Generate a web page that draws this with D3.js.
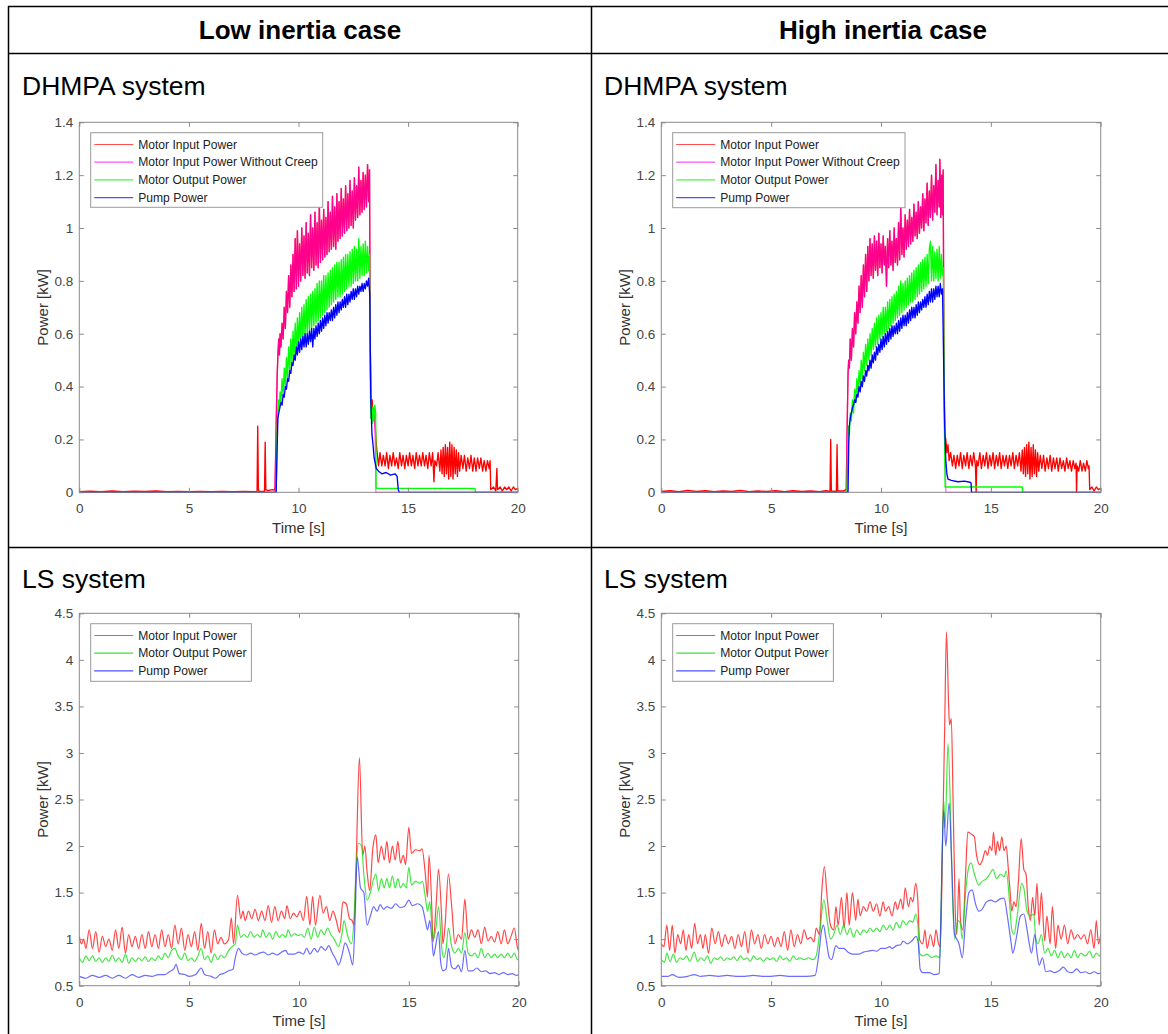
<!DOCTYPE html>
<html><head><meta charset="utf-8">
<script src="https://cdn.jsdelivr.net/npm/d3@7"></script>
<style>
html,body{margin:0;padding:0;background:#fff;}
svg text{font-family:"Liberation Sans",Arial,Helvetica,sans-serif;}
</style></head>
<body>
<svg id="chart" width="1168" height="1034"></svg>
<script>
// ---------------- DATA ----------------
const columnTitles = ["Low inertia case", "High inertia case"];
const rowTitles = ["DHMPA system", "LS system"];
const xTicks = [0, 5, 10, 15, 20];
const yTicksDH = [0, 0.2, 0.4, 0.6, 0.8, 1, 1.2, 1.4];
const yTicksLS = [0.5, 1, 1.5, 2, 2.5, 3, 3.5, 4, 4.5];
const legendDH = ["Motor Input Power", "Motor Input Power Without Creep", "Motor Output Power", "Pump Power"];
const legendLS = ["Motor Input Power", "Motor Output Power", "Pump Power"];
const xLabel = "Time [s]";
const yLabel = "Power [kW]";

// ---- DHMPA, low inertia ----
const dhLowRedPre = [[0,0.002],[0.5,0.004],[1,0.002],[1.5,0.005],[2,0.002],[2.5,0.004],[3,0.003],[3.5,0.005],[4,0.002],[4.5,0.003],[5,0.002],[5.5,0.003],[6,0.002],[6.5,0.003],[7,0.002],[7.5,0.003],[8.11,0.002],[8.14,0.25],[8.17,0.01],[8.2,0.003],[8.45,0.004],[8.48,0.19],[8.51,0.01],[8.6,0.006],[8.8,0.01],[8.9,0.008]];
const dhLowInputActive = [[8.93,0.02],[8.97,0.2],[9.0,0.33],[9.03,0.45],[9.06,0.52],[9.1,0.58],[9.13,0.52],[9.16,0.6],[9.2,0.55],[9.25,0.64],[9.3,0.58],[9.35,0.7],[9.4,0.62],[9.45,0.76],[9.5,0.68],[9.55,0.82],[9.6,0.7],[9.65,0.86],[9.7,0.74],[9.75,0.9],[9.8,0.76],[9.85,0.96],[9.9,0.77],[9.95,0.99],[10.0,0.78],[10.05,0.94],[10.1,0.8],[10.15,1.0],[10.2,0.82],[10.25,0.97],[10.3,0.81],[10.35,1.02],[10.4,0.83],[10.45,0.98],[10.5,0.82],[10.55,1.05],[10.6,0.85],[10.65,1.0],[10.7,0.84],[10.75,1.06],[10.8,0.86],[10.85,1.02],[10.9,0.85],[10.95,1.09],[11.0,0.87],[11.05,1.03],[11.1,0.88],[11.15,1.07],[11.2,0.89],[11.25,1.04],[11.3,0.9],[11.35,1.1],[11.4,0.91],[11.45,1.06],[11.5,0.92],[11.55,1.12],[11.6,0.93],[11.65,1.08],[11.7,0.92],[11.75,1.13],[11.8,0.95],[11.85,1.1],[11.9,0.96],[11.95,1.15],[12.0,0.97],[12.05,1.11],[12.1,0.98],[12.15,1.16],[12.2,0.99],[12.25,1.13],[12.3,1.0],[12.35,1.18],[12.4,1.01],[12.45,1.14],[12.5,1.0],[12.55,1.19],[12.6,1.03],[12.65,1.16],[12.7,1.04],[12.75,1.23],[12.8,1.05],[12.85,1.18],[12.9,1.06],[12.95,1.21],[13.0,1.07],[13.05,1.2],[13.1,1.08],[13.15,1.24],[13.2,1.1],[13.24,1.22]];
const dhLowRedTail = [[13.27,0.6],[13.3,0.36],[13.33,0.3],[13.36,0.35],[13.4,0.28],[13.45,0.32],[13.5,0.25],[13.55,0.18],[13.6,0.14],[13.65,0.1],[13.72,0.15],[13.8,0.1],[13.87,0.14],[13.95,0.1],[14.02,0.15],[14.1,0.09],[14.17,0.14],[14.25,0.1],[14.32,0.15],[14.4,0.1],[14.47,0.13],[14.55,0.09],[14.62,0.15],[14.7,0.1],[14.77,0.14],[14.85,0.09],[14.92,0.14],[15.0,0.1],[15.07,0.15],[15.15,0.1],[15.22,0.14],[15.3,0.09],[15.37,0.15],[15.45,0.1],[15.52,0.14],[15.6,0.1],[15.67,0.15],[15.75,0.1],[15.82,0.14],[15.9,0.09],[15.97,0.15],[16.05,0.1],[16.12,0.15],[16.18,0.04],[16.22,0.12],[16.3,0.1],[16.37,0.15],[16.45,0.08],[16.5,0.16],[16.55,0.07],[16.6,0.17],[16.65,0.06],[16.7,0.18],[16.75,0.07],[16.8,0.17],[16.85,0.05],[16.9,0.19],[16.95,0.06],[17.0,0.18],[17.05,0.05],[17.1,0.17],[17.15,0.07],[17.2,0.16],[17.25,0.06],[17.3,0.15],[17.35,0.08],[17.42,0.14],[17.5,0.09],[17.57,0.14],[17.65,0.08],[17.72,0.13],[17.8,0.09],[17.87,0.14],[17.95,0.08],[18.02,0.13],[18.1,0.08],[18.17,0.13],[18.25,0.09],[18.32,0.13],[18.4,0.08],[18.47,0.12],[18.55,0.08],[18.62,0.12],[18.7,0.09],[18.74,0.12],[18.77,0.01],[18.9,0.02],[19.0,0.005],[19.05,0.09],[19.08,0.01],[19.2,0.02],[19.3,0.005],[19.4,0.02],[19.5,0.01],[19.6,0.02],[19.7,0.005],[19.8,0.02],[19.9,0.01],[20,0.015]];
const dhLowMagPre = [[0,0],[8.93,0]];
const dhLowMagTail = [[13.27,0.6],[13.3,0.34],[13.35,0.3],[13.4,0.27],[13.45,0.3],[13.5,0.2],[13.53,0],[20,0]];
const dhLowGreen = [[0,0],[8.98,0],[9.02,0.2],[9.05,0.3],[9.08,0.35],[9.12,0.31],[9.16,0.38],[9.2,0.34],[9.25,0.43],[9.3,0.37],[9.35,0.47],[9.4,0.4],[9.45,0.51],[9.5,0.43],[9.55,0.55],[9.6,0.46],[9.65,0.58],[9.7,0.49],[9.75,0.61],[9.8,0.51],[9.85,0.64],[9.9,0.53],[9.95,0.66],[10.0,0.55],[10.05,0.68],[10.1,0.56],[10.15,0.7],[10.2,0.58],[10.25,0.71],[10.3,0.59],[10.35,0.73],[10.4,0.6],[10.45,0.74],[10.5,0.61],[10.55,0.75],[10.6,0.62],[10.65,0.76],[10.7,0.63],[10.75,0.77],[10.8,0.64],[10.85,0.79],[10.9,0.65],[10.95,0.8],[11.0,0.66],[11.05,0.8],[11.1,0.67],[11.15,0.82],[11.2,0.68],[11.25,0.82],[11.3,0.69],[11.35,0.83],[11.4,0.7],[11.45,0.84],[11.5,0.71],[11.55,0.85],[11.6,0.72],[11.65,0.86],[11.7,0.73],[11.75,0.87],[11.8,0.74],[11.85,0.87],[11.9,0.74],[11.95,0.88],[12.0,0.75],[12.05,0.89],[12.1,0.76],[12.15,0.9],[12.2,0.77],[12.25,0.9],[12.3,0.78],[12.35,0.91],[12.4,0.78],[12.45,0.92],[12.5,0.79],[12.55,0.93],[12.6,0.8],[12.65,0.92],[12.7,0.8],[12.75,0.96],[12.8,0.81],[12.85,0.93],[12.9,0.82],[12.95,0.94],[13.0,0.82],[13.05,0.95],[13.1,0.83],[13.15,0.93],[13.2,0.84],[13.24,0.9],[13.27,0.45],[13.3,0.28],[13.33,0.33],[13.37,0.26],[13.4,0.32],[13.44,0.27],[13.48,0.33],[13.52,0.3],[13.54,0.02],[13.56,0.015],[18.05,0.015],[18.07,0],[20,0]];
const dhLowBlue = [[0,0],[8.98,0],[9.02,0.15],[9.06,0.28],[9.1,0.3],[9.15,0.32],[9.2,0.34],[9.25,0.33],[9.3,0.37],[9.35,0.36],[9.4,0.4],[9.45,0.39],[9.5,0.43],[9.55,0.42],[9.6,0.46],[9.65,0.45],[9.7,0.49],[9.75,0.48],[9.8,0.52],[9.85,0.5],[9.9,0.55],[9.95,0.52],[10.0,0.57],[10.05,0.53],[10.1,0.58],[10.15,0.54],[10.2,0.59],[10.25,0.55],[10.3,0.6],[10.35,0.55],[10.4,0.6],[10.45,0.56],[10.5,0.61],[10.55,0.57],[10.6,0.62],[10.65,0.55],[10.7,0.62],[10.75,0.58],[10.8,0.63],[10.85,0.59],[10.9,0.64],[10.95,0.6],[11.0,0.65],[11.05,0.61],[11.1,0.66],[11.15,0.62],[11.2,0.67],[11.25,0.63],[11.3,0.68],[11.35,0.64],[11.4,0.68],[11.45,0.65],[11.5,0.69],[11.55,0.65],[11.6,0.7],[11.65,0.66],[11.7,0.71],[11.75,0.67],[11.8,0.72],[11.85,0.68],[11.9,0.72],[11.95,0.69],[12.0,0.73],[12.05,0.7],[12.1,0.74],[12.15,0.7],[12.2,0.75],[12.25,0.71],[12.3,0.75],[12.35,0.72],[12.4,0.76],[12.45,0.73],[12.5,0.77],[12.55,0.73],[12.6,0.77],[12.65,0.74],[12.7,0.78],[12.75,0.75],[12.8,0.78],[12.85,0.76],[12.9,0.79],[12.95,0.76],[13.0,0.79],[13.05,0.77],[13.1,0.8],[13.15,0.78],[13.2,0.81],[13.25,0.75],[13.3,0.35],[13.35,0.22],[13.4,0.18],[13.45,0.13],[13.5,0.11],[13.55,0.09],[13.65,0.08],[13.8,0.07],[14.0,0.075],[14.2,0.065],[14.4,0.07],[14.5,0.06],[14.55,0.01],[14.6,0],[20,0]];

// ---- DHMPA, high inertia ----
const dhHighRedPre = [[0,0.003],[0.4,0.006],[0.8,0.002],[1.2,0.007],[1.6,0.003],[2.0,0.006],[2.4,0.002],[2.8,0.005],[3.2,0.003],[3.6,0.007],[4.0,0.002],[4.4,0.005],[4.8,0.003],[5.2,0.006],[5.6,0.002],[6.0,0.006],[6.4,0.003],[6.8,0.005],[7.2,0.002],[7.5,0.006],[7.68,0.003],[7.71,0.2],[7.74,0.005],[7.97,0.003],[8.0,0.18],[8.03,0.005],[8.3,0.005],[8.4,0.01]];
const dhHighInputActive = [[8.42,0.01],[8.45,0.2],[8.48,0.35],[8.5,0.45],[8.53,0.5],[8.56,0.47],[8.6,0.58],[8.65,0.5],[8.7,0.62],[8.75,0.55],[8.8,0.68],[8.85,0.6],[8.9,0.72],[8.95,0.64],[9.0,0.78],[9.05,0.68],[9.1,0.82],[9.15,0.7],[9.2,0.86],[9.25,0.74],[9.3,0.9],[9.35,0.76],[9.4,0.93],[9.45,0.8],[9.5,0.96],[9.55,0.82],[9.6,0.94],[9.65,0.81],[9.7,0.97],[9.75,0.84],[9.8,0.95],[9.85,0.82],[9.9,0.98],[9.95,0.85],[10.0,0.94],[10.05,0.83],[10.1,0.97],[10.15,0.86],[10.2,0.93],[10.25,0.78],[10.3,0.96],[10.35,0.85],[10.4,0.99],[10.45,0.86],[10.5,0.95],[10.55,0.84],[10.6,1.0],[10.65,0.87],[10.7,0.96],[10.75,0.86],[10.8,1.02],[10.85,0.88],[10.9,1.08],[10.95,0.9],[11.0,1.0],[11.05,0.89],[11.1,1.05],[11.15,0.92],[11.2,1.03],[11.25,0.93],[11.3,1.07],[11.35,0.94],[11.4,1.04],[11.45,0.95],[11.5,1.09],[11.55,0.97],[11.6,1.06],[11.65,0.96],[11.7,1.1],[11.75,0.98],[11.8,1.08],[11.85,1.0],[11.9,1.13],[11.95,0.99],[12.0,1.11],[12.05,1.02],[12.1,1.17],[12.15,1.01],[12.2,1.14],[12.25,1.04],[12.3,1.2],[12.35,1.03],[12.4,1.16],[12.45,1.06],[12.5,1.24],[12.55,1.05],[12.6,1.18],[12.65,1.08],[12.68,1.26],[12.72,1.04],[12.76,1.2],[12.8,1.05],[12.83,1.22]];
const dhHighRedTail = [[12.86,0.6],[12.9,0.22],[12.95,0.2],[13.0,0.15],[13.05,0.18],[13.1,0.12],[13.17,0.15],[13.25,0.1],[13.32,0.14],[13.4,0.09],[13.47,0.14],[13.55,0.1],[13.62,0.15],[13.7,0.09],[13.77,0.14],[13.85,0.1],[13.92,0.15],[14.0,0.09],[14.07,0.14],[14.15,0.1],[14.22,0.15],[14.3,0.1],[14.33,0.0],[14.36,0.12],[14.42,0.1],[14.5,0.15],[14.57,0.09],[14.65,0.14],[14.72,0.1],[14.8,0.15],[14.87,0.09],[14.95,0.14],[15.02,0.1],[15.1,0.15],[15.17,0.09],[15.25,0.14],[15.32,0.1],[15.4,0.15],[15.47,0.09],[15.55,0.14],[15.62,0.1],[15.7,0.14],[15.77,0.09],[15.85,0.14],[15.92,0.1],[16.0,0.15],[16.07,0.09],[16.15,0.14],[16.22,0.1],[16.3,0.15],[16.37,0.08],[16.43,0.16],[16.48,0.07],[16.53,0.17],[16.58,0.06],[16.63,0.18],[16.68,0.07],[16.73,0.19],[16.78,0.05],[16.83,0.17],[16.88,0.06],[16.93,0.18],[16.98,0.07],[17.03,0.16],[17.08,0.06],[17.13,0.15],[17.18,0.08],[17.25,0.14],[17.32,0.09],[17.4,0.14],[17.47,0.08],[17.55,0.13],[17.62,0.09],[17.7,0.14],[17.77,0.08],[17.85,0.13],[17.92,0.09],[18.0,0.13],[18.07,0.08],[18.15,0.13],[18.22,0.09],[18.3,0.12],[18.37,0.08],[18.45,0.13],[18.52,0.09],[18.6,0.12],[18.67,0.08],[18.75,0.12],[18.82,0.09],[18.88,0.11],[18.9,0.0],[18.93,0.1],[19.0,0.08],[19.07,0.12],[19.15,0.08],[19.22,0.11],[19.3,0.08],[19.37,0.12],[19.44,0.09],[19.47,0.1],[19.5,0.01],[19.6,0.02],[19.7,0.005],[19.8,0.02],[19.9,0.01],[20,0.015]];
const dhHighMagPre = [[0,0],[8.42,0]];
const dhHighMagTail = [[12.86,0.5],[12.9,0.2],[12.95,0],[20,0]];
const dhHighGreen = [[0,0],[8.45,0],[8.48,0.15],[8.52,0.25],[8.56,0.22],[8.6,0.3],[8.65,0.27],[8.7,0.35],[8.75,0.3],[8.8,0.39],[8.85,0.34],[8.9,0.43],[8.95,0.37],[9.0,0.46],[9.05,0.4],[9.1,0.5],[9.15,0.43],[9.2,0.53],[9.25,0.46],[9.3,0.56],[9.35,0.48],[9.4,0.58],[9.45,0.5],[9.5,0.6],[9.55,0.52],[9.6,0.62],[9.65,0.54],[9.7,0.64],[9.75,0.55],[9.8,0.66],[9.85,0.56],[9.9,0.67],[9.95,0.58],[10.0,0.68],[10.05,0.59],[10.1,0.7],[10.15,0.6],[10.2,0.7],[10.25,0.61],[10.3,0.72],[10.35,0.62],[10.4,0.73],[10.45,0.63],[10.5,0.74],[10.55,0.64],[10.6,0.75],[10.65,0.65],[10.7,0.76],[10.75,0.66],[10.8,0.78],[10.85,0.67],[10.9,0.8],[10.95,0.68],[11.0,0.79],[11.05,0.69],[11.1,0.8],[11.15,0.7],[11.2,0.81],[11.25,0.71],[11.3,0.82],[11.35,0.72],[11.4,0.83],[11.45,0.72],[11.5,0.84],[11.55,0.73],[11.6,0.85],[11.65,0.74],[11.7,0.86],[11.75,0.75],[11.8,0.87],[11.85,0.76],[11.9,0.88],[11.95,0.77],[12.0,0.89],[12.05,0.78],[12.1,0.9],[12.15,0.79],[12.2,0.92],[12.25,0.95],[12.3,0.8],[12.35,0.93],[12.4,0.8],[12.45,0.91],[12.5,0.81],[12.55,0.92],[12.6,0.8],[12.65,0.93],[12.7,0.81],[12.75,0.9],[12.8,0.82],[12.84,0.85],[12.88,0.3],[12.92,0.02],[16.43,0.02],[16.45,0],[20,0]];
const dhHighBlue = [[0,0],[8.5,0],[8.53,0.18],[8.56,0.25],[8.6,0.28],[8.65,0.3],[8.7,0.32],[8.75,0.33],[8.8,0.35],[8.85,0.34],[8.9,0.37],[8.95,0.36],[9.0,0.4],[9.05,0.38],[9.1,0.42],[9.15,0.4],[9.2,0.44],[9.25,0.42],[9.3,0.46],[9.35,0.44],[9.4,0.48],[9.45,0.46],[9.5,0.5],[9.55,0.47],[9.6,0.52],[9.65,0.49],[9.7,0.53],[9.75,0.5],[9.8,0.55],[9.85,0.52],[9.9,0.56],[9.95,0.53],[10.0,0.58],[10.05,0.54],[10.1,0.59],[10.15,0.55],[10.2,0.6],[10.25,0.56],[10.3,0.61],[10.35,0.57],[10.4,0.62],[10.45,0.58],[10.5,0.63],[10.55,0.59],[10.6,0.63],[10.65,0.6],[10.7,0.64],[10.75,0.6],[10.8,0.65],[10.85,0.61],[10.9,0.66],[10.95,0.62],[11.0,0.67],[11.05,0.63],[11.1,0.67],[11.15,0.63],[11.2,0.68],[11.25,0.64],[11.3,0.69],[11.35,0.65],[11.4,0.7],[11.45,0.66],[11.5,0.7],[11.55,0.66],[11.6,0.71],[11.65,0.67],[11.7,0.72],[11.75,0.68],[11.8,0.72],[11.85,0.69],[11.9,0.73],[11.95,0.7],[12.0,0.74],[12.05,0.7],[12.1,0.75],[12.15,0.71],[12.2,0.76],[12.25,0.72],[12.3,0.77],[12.35,0.72],[12.4,0.77],[12.45,0.73],[12.5,0.78],[12.55,0.74],[12.6,0.78],[12.65,0.74],[12.7,0.79],[12.75,0.75],[12.8,0.77],[12.85,0.5],[12.9,0.25],[12.95,0.12],[13.0,0.07],[13.05,0.05],[13.2,0.045],[13.5,0.04],[13.8,0.042],[14.05,0.038],[14.1,0.035],[14.12,0],[20,0]];

// ---- LS, low inertia ----
const lsLowRed = [[0,1.03],[0.1,0.95],[0.2,1.0],[0.3,0.9],[0.45,1.1],[0.6,0.9],[0.75,1.08],[0.9,0.86],[1.05,1.03],[1.2,0.92],[1.35,1.0],[1.5,0.88],[1.65,1.1],[1.8,0.9],[1.95,1.13],[2.1,0.85],[2.25,1.05],[2.4,0.92],[2.55,1.03],[2.7,0.9],[2.85,1.05],[3.0,0.9],[3.15,1.08],[3.3,0.92],[3.45,1.05],[3.6,0.9],[3.75,1.1],[3.9,0.92],[4.05,1.05],[4.2,0.9],[4.35,1.15],[4.5,0.95],[4.65,1.12],[4.8,0.88],[4.95,1.05],[5.1,0.92],[5.25,1.08],[5.4,0.88],[5.55,1.17],[5.7,0.9],[5.85,1.08],[6.0,0.85],[6.15,1.1],[6.3,0.95],[6.45,1.02],[6.6,0.95],[6.8,1.0],[6.92,1.23],[7.02,0.95],[7.2,1.47],[7.35,1.22],[7.45,1.3],[7.55,1.2],[7.7,1.3],[7.85,1.22],[8.0,1.32],[8.15,1.2],[8.3,1.3],[8.45,1.2],[8.6,1.36],[8.75,1.18],[8.9,1.35],[9.05,1.2],[9.2,1.3],[9.35,1.22],[9.45,1.36],[9.6,1.22],[9.75,1.28],[9.9,1.24],[10.05,1.3],[10.2,1.2],[10.35,1.46],[10.5,1.15],[10.62,1.46],[10.75,1.15],[10.95,1.47],[11.1,1.28],[11.25,1.35],[11.4,1.2],[11.55,1.3],[11.7,1.2],[11.85,1.07],[12.0,1.4],[12.15,1.38],[12.3,1.22],[12.42,1.2],[12.5,1.15],[12.6,1.8],[12.75,2.95],[12.9,1.9],[13.0,2.0],[13.1,1.72],[13.22,1.52],[13.35,1.95],[13.5,2.12],[13.6,1.82],[13.75,2.0],[13.88,1.85],[14.0,2.05],[14.12,1.82],[14.25,2.0],[14.38,1.85],[14.5,2.05],[14.62,1.82],[14.75,1.9],[14.85,1.8],[15.0,2.2],[15.12,1.92],[15.3,1.96],[15.5,1.95],[15.6,1.97],[15.75,1.7],[15.85,1.45],[15.92,1.9],[16.05,1.3],[16.1,0.97],[16.25,1.4],[16.35,1.75],[16.5,1.2],[16.55,0.95],[16.65,1.15],[16.8,1.7],[16.95,1.35],[17.1,0.95],[17.25,1.05],[17.4,1.0],[17.55,1.43],[17.7,1.0],[17.85,1.1],[18.0,1.02],[18.15,1.1],[18.3,0.95],[18.45,1.13],[18.6,0.98],[18.75,1.03],[18.9,0.97],[19.05,1.08],[19.2,0.95],[19.35,1.1],[19.5,0.95],[19.65,1.03],[19.8,1.12],[19.95,0.9],[20,0.88]];
const lsLowGreen = [[0,0.8],[0.15,0.75],[0.3,0.82],[0.45,0.77],[0.6,0.82],[0.75,0.76],[0.9,0.8],[1.05,0.75],[1.2,0.8],[1.35,0.76],[1.5,0.83],[1.65,0.76],[1.8,0.8],[1.95,0.75],[2.1,0.84],[2.25,0.74],[2.4,0.8],[2.55,0.76],[2.7,0.8],[2.85,0.77],[3.0,0.81],[3.15,0.76],[3.3,0.8],[3.45,0.77],[3.6,0.82],[3.75,0.78],[3.9,0.85],[4.05,0.8],[4.2,0.88],[4.35,0.9],[4.5,0.82],[4.65,0.78],[4.8,0.85],[4.95,0.77],[5.1,0.8],[5.25,0.76],[5.4,0.82],[5.55,0.9],[5.7,0.78],[5.85,0.82],[6.0,0.75],[6.15,0.84],[6.3,0.78],[6.45,0.83],[6.6,0.8],[6.8,0.88],[6.95,0.92],[7.1,0.95],[7.2,1.15],[7.35,1.02],[7.5,1.05],[7.65,1.02],[7.8,1.08],[7.95,1.02],[8.1,1.05],[8.25,1.02],[8.35,1.1],[8.5,1.02],[8.65,1.07],[8.8,1.0],[8.95,1.08],[9.1,1.02],[9.25,1.05],[9.4,1.02],[9.5,1.1],[9.65,1.03],[9.8,1.06],[9.95,1.04],[10.1,1.05],[10.25,1.02],[10.4,1.12],[10.55,1.0],[10.7,1.13],[10.85,1.02],[11.0,1.1],[11.15,1.05],[11.3,1.12],[11.45,1.05],[11.6,1.0],[11.8,0.92],[11.95,1.05],[12.05,1.2],[12.2,1.05],[12.38,0.95],[12.5,1.2],[12.6,1.75],[12.7,2.03],[12.85,2.0],[12.95,1.7],[13.1,1.42],[13.25,1.5],[13.4,1.65],[13.5,1.7],[13.62,1.52],[13.75,1.65],[13.88,1.55],[14.0,1.65],[14.12,1.55],[14.25,1.68],[14.38,1.55],[14.5,1.65],[14.62,1.55],[14.75,1.6],[14.88,1.55],[15.0,1.77],[15.12,1.58],[15.3,1.62],[15.5,1.6],[15.62,1.62],[15.75,1.45],[15.85,1.3],[15.95,1.4],[16.05,1.15],[16.12,1.0],[16.25,1.15],[16.35,1.35],[16.5,0.9],[16.58,0.8],[16.7,0.9],[16.8,1.12],[16.95,0.92],[17.1,0.85],[17.25,0.9],[17.4,0.85],[17.55,1.07],[17.7,0.85],[17.85,0.82],[18.0,0.85],[18.15,0.8],[18.3,0.9],[18.45,0.8],[18.6,0.85],[18.75,0.8],[18.9,0.84],[19.05,0.8],[19.2,0.84],[19.35,0.8],[19.5,0.85],[19.65,0.8],[19.8,0.85],[19.95,0.78],[20,0.78]];
const lsLowBlue = [[0,0.6],[0.3,0.58],[0.6,0.61],[0.9,0.59],[1.2,0.61],[1.5,0.58],[1.8,0.61],[2.1,0.58],[2.4,0.62],[2.7,0.59],[3.0,0.61],[3.3,0.6],[3.6,0.62],[3.9,0.62],[4.1,0.65],[4.3,0.68],[4.4,0.73],[4.55,0.63],[4.8,0.62],[5.0,0.6],[5.3,0.62],[5.55,0.69],[5.7,0.62],[6.0,0.6],[6.2,0.58],[6.4,0.62],[6.55,0.63],[6.8,0.66],[7.0,0.68],[7.1,0.8],[7.25,0.9],[7.4,0.85],[7.6,0.83],[7.8,0.85],[8.0,0.83],[8.2,0.85],[8.4,0.86],[8.6,0.83],[8.8,0.85],[9.0,0.83],[9.2,0.86],[9.4,0.88],[9.5,0.84],[9.8,0.84],[10.0,0.86],[10.2,0.84],[10.35,0.9],[10.5,0.84],[10.7,0.9],[10.85,0.86],[11.0,0.92],[11.2,0.88],[11.35,0.93],[11.5,0.86],[11.7,0.77],[11.8,0.72],[11.95,0.82],[12.1,0.96],[12.3,0.85],[12.45,0.72],[12.55,1.2],[12.65,1.88],[12.8,1.55],[12.95,1.5],[13.1,1.15],[13.25,1.25],[13.4,1.35],[13.55,1.3],[13.7,1.37],[13.85,1.32],[14.0,1.35],[14.2,1.33],[14.4,1.38],[14.6,1.34],[14.8,1.35],[15.0,1.42],[15.15,1.36],[15.4,1.38],[15.6,1.35],[15.75,1.2],[15.85,1.1],[15.95,1.2],[16.05,1.0],[16.12,0.82],[16.2,0.9],[16.35,1.08],[16.45,0.75],[16.55,0.66],[16.7,0.68],[16.8,0.9],[16.95,0.7],[17.1,0.68],[17.25,0.72],[17.4,0.65],[17.55,0.88],[17.7,0.66],[17.9,0.66],[18.1,0.69],[18.3,0.65],[18.5,0.66],[18.7,0.63],[18.9,0.64],[19.1,0.62],[19.3,0.64],[19.5,0.62],[19.7,0.63],[19.9,0.61],[20,0.62]];

// ---- LS, high inertia ----
const lsHighRed = [[0,0.95],[0.12,0.92],[0.25,1.15],[0.38,0.88],[0.5,1.15],[0.62,0.85],[0.75,1.05],[0.88,0.95],[1.0,1.1],[1.12,0.88],[1.25,1.05],[1.38,0.9],[1.52,1.17],[1.65,0.95],[1.78,1.05],[1.9,0.9],[2.0,1.05],[2.15,0.85],[2.3,1.12],[2.45,0.95],[2.6,1.08],[2.75,0.92],[2.9,1.05],[3.05,0.95],[3.2,1.03],[3.35,0.9],[3.5,1.05],[3.65,0.92],[3.8,1.08],[3.95,0.85],[4.1,1.1],[4.25,0.95],[4.4,1.05],[4.55,0.9],[4.7,1.05],[4.85,0.95],[5.0,1.03],[5.15,0.92],[5.3,1.02],[5.45,0.92],[5.6,1.08],[5.75,0.88],[5.9,1.1],[6.05,0.92],[6.2,1.05],[6.35,0.95],[6.5,1.1],[6.65,1.0],[6.8,1.02],[6.95,0.97],[7.05,1.12],[7.2,1.05],[7.3,1.5],[7.42,1.78],[7.55,1.45],[7.7,1.15],[7.85,1.1],[7.95,1.35],[8.05,1.15],[8.2,1.45],[8.32,1.12],[8.45,1.5],[8.55,1.15],[8.7,1.5],[8.85,1.2],[8.95,1.43],[9.05,1.25],[9.2,1.35],[9.35,1.3],[9.5,1.4],[9.65,1.3],[9.8,1.38],[9.95,1.25],[10.1,1.4],[10.2,1.3],[10.35,1.35],[10.5,1.25],[10.65,1.4],[10.75,1.32],[10.9,1.43],[11.0,1.32],[11.1,1.55],[11.25,1.35],[11.35,1.45],[11.45,1.4],[11.58,1.6],[11.68,1.4],[11.75,1.0],[11.9,0.95],[12.0,1.1],[12.1,0.9],[12.25,1.05],[12.4,0.92],[12.5,1.1],[12.62,0.95],[12.7,0.92],[12.8,2.0],[12.9,3.3],[12.98,4.3],[13.08,3.5],[13.12,3.3],[13.2,3.37],[13.28,2.5],[13.38,1.3],[13.45,1.05],[13.55,1.65],[13.62,1.2],[13.72,1.1],[13.85,1.7],[13.95,2.15],[14.1,2.13],[14.25,2.1],[14.35,1.9],[14.5,1.8],[14.62,1.85],[14.75,1.95],[14.85,1.9],[14.95,2.0],[15.05,1.95],[15.12,2.15],[15.22,1.9],[15.3,2.05],[15.4,1.95],[15.5,2.1],[15.6,1.95],[15.7,2.0],[15.78,1.8],[15.88,1.5],[15.95,1.3],[16.05,1.4],[16.15,1.35],[16.25,1.6],[16.38,2.08],[16.5,1.75],[16.6,1.7],[16.7,1.35],[16.8,1.2],[16.9,1.45],[17.0,1.25],[17.1,1.6],[17.2,1.15],[17.3,1.5],[17.45,0.98],[17.55,1.25],[17.7,0.95],[17.8,1.35],[17.95,0.9],[18.05,1.15],[18.2,1.0],[18.35,1.15],[18.5,0.95],[18.65,1.1],[18.8,1.0],[18.95,1.05],[19.1,1.0],[19.25,1.05],[19.4,0.95],[19.55,1.1],[19.7,0.9],[19.8,1.2],[19.9,0.95],[20,1.05]];
const lsHighGreen = [[0,0.78],[0.15,0.75],[0.25,0.85],[0.4,0.76],[0.55,0.84],[0.7,0.75],[0.85,0.8],[1.0,0.78],[1.15,0.82],[1.3,0.76],[1.5,0.86],[1.65,0.76],[1.8,0.8],[1.95,0.77],[2.1,0.82],[2.25,0.74],[2.4,0.8],[2.55,0.78],[2.7,0.81],[2.85,0.77],[3.0,0.8],[3.15,0.78],[3.3,0.81],[3.45,0.77],[3.6,0.82],[3.75,0.78],[3.9,0.8],[4.05,0.76],[4.2,0.82],[4.35,0.78],[4.5,0.8],[4.65,0.76],[4.8,0.8],[4.95,0.78],[5.1,0.8],[5.25,0.76],[5.4,0.82],[5.55,0.78],[5.7,0.8],[5.85,0.76],[6.0,0.82],[6.15,0.78],[6.3,0.8],[6.5,0.78],[6.7,0.8],[6.9,0.78],[7.05,0.82],[7.2,1.05],[7.4,1.42],[7.55,1.2],[7.7,1.0],[7.85,1.05],[8.0,1.15],[8.15,1.05],[8.3,1.15],[8.45,1.05],[8.6,1.12],[8.75,1.02],[8.9,1.1],[9.05,1.05],[9.2,1.1],[9.35,1.07],[9.5,1.12],[9.65,1.08],[9.8,1.12],[9.95,1.08],[10.1,1.15],[10.25,1.1],[10.4,1.15],[10.55,1.1],[10.7,1.18],[10.85,1.12],[11.0,1.2],[11.15,1.15],[11.3,1.2],[11.45,1.18],[11.58,1.27],[11.68,1.15],[11.75,0.85],[11.9,0.82],[12.1,0.84],[12.3,0.8],[12.5,0.82],[12.68,0.8],[12.75,1.5],[12.85,2.5],[12.92,2.2],[13.05,3.1],[13.15,2.5],[13.25,1.5],[13.35,1.0],[13.5,1.2],[13.6,1.18],[13.7,1.0],[13.85,1.5],[14.0,1.78],[14.1,1.82],[14.25,1.7],[14.45,1.58],[14.6,1.62],[14.8,1.65],[14.95,1.7],[15.1,1.75],[15.25,1.65],[15.45,1.7],[15.6,1.67],[15.7,1.73],[15.85,1.4],[15.95,1.1],[16.05,1.05],[16.2,1.25],[16.4,1.6],[16.5,1.55],[16.65,1.3],[16.8,1.25],[16.95,1.27],[17.05,1.0],[17.15,0.95],[17.3,1.05],[17.45,0.85],[17.6,0.9],[17.75,0.82],[17.9,0.88],[18.05,0.8],[18.2,0.87],[18.35,0.8],[18.5,0.85],[18.65,0.8],[18.8,0.88],[18.95,0.8],[19.1,0.85],[19.3,0.82],[19.5,0.87],[19.65,0.8],[19.8,0.85],[19.95,0.82],[20,0.84]];
const lsHighBlue = [[0,0.6],[0.3,0.6],[0.5,0.62],[0.8,0.59],[1.2,0.6],[1.5,0.62],[1.8,0.6],[2.2,0.61],[2.6,0.6],[3.0,0.61],[3.4,0.6],[3.8,0.6],[4.2,0.61],[4.6,0.6],[5.0,0.6],[5.4,0.61],[5.8,0.6],[6.2,0.6],[6.6,0.6],[7.0,0.61],[7.15,0.8],[7.3,1.1],[7.38,1.15],[7.5,1.0],[7.65,0.8],[7.75,0.78],[7.95,0.93],[8.1,0.9],[8.3,0.9],[8.5,0.86],[8.7,0.84],[9.0,0.84],[9.2,0.86],[9.4,0.87],[9.6,0.88],[9.8,0.87],[10.0,0.9],[10.2,0.9],[10.4,0.92],[10.5,0.9],[10.7,0.93],[10.9,0.94],[11.0,0.98],[11.2,0.95],[11.4,0.98],[11.6,1.03],[11.7,0.95],[11.78,0.68],[11.9,0.64],[12.2,0.64],[12.4,0.62],[12.65,0.63],[12.72,1.2],[12.85,2.38],[12.95,2.0],[13.1,2.46],[13.22,1.8],[13.35,1.05],[13.45,1.0],[13.55,0.95],[13.7,0.8],[13.85,1.2],[14.0,1.5],[14.15,1.53],[14.3,1.38],[14.45,1.3],[14.6,1.32],[14.8,1.4],[15.0,1.42],[15.2,1.4],[15.4,1.43],[15.6,1.44],[15.75,1.25],[15.9,1.0],[16.0,0.85],[16.15,1.0],[16.35,1.25],[16.5,1.27],[16.65,1.1],[16.75,0.95],[16.85,0.85],[17.0,1.05],[17.1,0.85],[17.2,0.72],[17.35,0.8],[17.5,0.65],[17.7,0.66],[17.9,0.64],[18.1,0.66],[18.3,0.7],[18.5,0.65],[18.7,0.64],[18.9,0.68],[19.1,0.64],[19.3,0.65],[19.5,0.63],[19.7,0.65],[19.9,0.63],[20,0.64]];

// -------------- SERIES ASSEMBLY --------------
const dhLowSeries = [
  {data: dhLowRedPre.concat(dhLowInputActive, dhLowRedTail), color: "#ff0000", op: 1},
  {data: dhLowMagPre.concat(dhLowInputActive, dhLowMagTail), color: "#ff00ff", op: 0.55},
  {data: dhLowGreen, color: "#00ff00", op: 1},
  {data: dhLowBlue, color: "#0000ff", op: 1}
];
const dhHighSeries = [
  {data: dhHighRedPre.concat(dhHighInputActive, dhHighRedTail), color: "#ff0000", op: 1},
  {data: dhHighMagPre.concat(dhHighInputActive, dhHighMagTail), color: "#ff00ff", op: 0.55},
  {data: dhHighGreen, color: "#00ff00", op: 1},
  {data: dhHighBlue, color: "#0000ff", op: 1}
];
const lsLowSeries = [
  {data: lsLowRed, color: "#ff0000", op: 0.72},
  {data: lsLowGreen, color: "#00dd00", op: 0.72},
  {data: lsLowBlue, color: "#3333ff", op: 0.72}
];
const lsHighSeries = [
  {data: lsHighRed, color: "#ff0000", op: 0.72},
  {data: lsHighGreen, color: "#00dd00", op: 0.72},
  {data: lsHighBlue, color: "#3333ff", op: 0.72}
];
const legendColorsDH = ["#ff5050", "#ff50ff", "#40ff40", "#5050ff"];
const legendColorsLS = ["#ff5050", "#40e040", "#5050ff"];

// -------------- DRAW --------------
const svg = d3.select("#chart");
svg.append("rect").attr("width", 1168).attr("height", 1034).attr("fill", "#fff");

// table grid
const grid = svg.append("g").attr("stroke", "#000").attr("stroke-width", 1.5);
grid.append("line").attr("x1", 8).attr("x2", 1168).attr("y1", 6.5).attr("y2", 6.5);
grid.append("line").attr("x1", 8).attr("x2", 1168).attr("y1", 53.5).attr("y2", 53.5);
grid.append("line").attr("x1", 8).attr("x2", 1168).attr("y1", 547.5).attr("y2", 547.5);
grid.append("line").attr("x1", 8.5).attr("x2", 8.5).attr("y1", 6).attr("y2", 1034);
grid.append("line").attr("x1", 591.5).attr("x2", 591.5).attr("y1", 6).attr("y2", 1034);

// headers
[300, 883].forEach((cx, i) => {
  svg.append("text").attr("x", cx).attr("y", 39).attr("text-anchor", "middle")
    .attr("font-size", 26).attr("font-weight", "bold").attr("fill", "#000").text(columnTitles[i]);
});
[[22, 95, 0], [604, 95, 0], [22, 588, 1], [604, 588, 1]].forEach(([x, y, r]) => {
  svg.append("text").attr("x", x).attr("y", y).attr("font-size", 26.5).attr("fill", "#000").text(rowTitles[r]);
});

let clipId = 0;
function drawPanel(p) {
  const g = svg.append("g");
  const x = d3.scaleLinear().domain([0, 20]).range([p.x, p.x + p.w]);
  const y = d3.scaleLinear().domain(p.yDomain).range([p.y + p.h, p.y]);
  const id = "clip" + (clipId++);
  g.append("clipPath").attr("id", id).append("rect")
    .attr("x", p.x).attr("y", p.y - 1).attr("width", p.w).attr("height", p.h + 2);

  const line = d3.line().x(d => x(d[0])).y(d => y(d[1])).curve(p.curve);
  const lg = g.append("g").attr("clip-path", `url(#${id})`);
  p.series.forEach(s => {
    lg.append("path").attr("d", line(s.data)).attr("fill", "none")
      .attr("stroke", s.color).attr("stroke-width", p.lw).attr("stroke-opacity", s.op)
      .attr("stroke-linejoin", "round");
  });

  const axColor = "#8a8a8a", txtColor = "#444";
  const fmt = d => String(+d.toFixed(1));
  const styleAxis = (sel) => {
    sel.select(".domain").remove();
    sel.selectAll(".tick line").attr("stroke", axColor);
    sel.selectAll(".tick text").attr("fill", txtColor).attr("font-size", 13.5)
      .attr("font-family", '"Liberation Sans", Arial, sans-serif');
  };
  g.append("g").attr("transform", `translate(0,${p.y + p.h})`)
    .call(d3.axisBottom(x).tickValues(xTicks).tickFormat(fmt).tickSize(-4.5).tickSizeOuter(0).tickPadding(11.5))
    .call(styleAxis);
  g.append("g").attr("transform", `translate(0,${p.y})`)
    .call(d3.axisTop(x).tickValues(xTicks).tickFormat("").tickSize(-4.5).tickSizeOuter(0))
    .call(styleAxis);
  g.append("g").attr("transform", `translate(${p.x},0)`)
    .call(d3.axisLeft(y).tickValues(p.yTicks).tickFormat(fmt).tickSize(-4.5).tickSizeOuter(0).tickPadding(6))
    .call(styleAxis);
  g.append("g").attr("transform", `translate(${p.x + p.w},0)`)
    .call(d3.axisRight(y).tickValues(p.yTicks).tickFormat("").tickSize(-4.5).tickSizeOuter(0))
    .call(styleAxis);
  g.append("rect").attr("x", p.x).attr("y", p.y).attr("width", p.w).attr("height", p.h)
    .attr("fill", "none").attr("stroke", axColor).attr("stroke-width", 1);

  g.append("text").attr("x", p.x + p.w / 2).attr("y", p.y + p.h + 40.5).attr("text-anchor", "middle")
    .attr("font-size", 15).attr("fill", "#333").text(xLabel);
  g.append("text").attr("transform", `translate(${p.x - 31},${p.y + p.h / 2}) rotate(-90)`)
    .attr("text-anchor", "middle").attr("font-size", 15).attr("fill", "#333").text(yLabel);

  // legend
  const L = p.legend;
  const lgd = g.append("g").attr("transform", `translate(${p.x + 11.4},${p.y + 10.4})`);
  lgd.append("rect").attr("width", L.w).attr("height", L.h).attr("fill", "#fff")
    .attr("stroke", "#9a9a9a").attr("stroke-width", 1);
  L.labels.forEach((lab, i) => {
    const cy = 11.8 + i * 17.7;
    lgd.append("line").attr("x1", 3.5).attr("x2", 42.5).attr("y1", cy).attr("y2", cy)
      .attr("stroke", L.colors[i]).attr("stroke-width", 1.2);
    lgd.append("text").attr("x", 47.5).attr("y", cy + 4.3).attr("font-size", 12.1)
      .attr("fill", "#222").text(lab);
  });
}

drawPanel({x: 79.3, y: 122.3, w: 438.4, h: 370, yDomain: [0, 1.4], yTicks: yTicksDH, series: dhLowSeries,
  curve: d3.curveLinear, lw: 1.35, legend: {w: 232, h: 74.6, labels: legendDH, colors: legendColorsDH}});
drawPanel({x: 661.3, y: 122.3, w: 439.4, h: 370, yDomain: [0, 1.4], yTicks: yTicksDH, series: dhHighSeries,
  curve: d3.curveLinear, lw: 1.35, legend: {w: 232.3, h: 75, labels: legendDH, colors: legendColorsDH}});
drawPanel({x: 79.3, y: 613.3, w: 439.4, h: 372.4, yDomain: [0.5, 4.5], yTicks: yTicksLS, series: lsLowSeries,
  curve: d3.curveMonotoneX, lw: 1.2, legend: {w: 160.7, h: 57.6, labels: legendLS, colors: legendColorsLS}});
drawPanel({x: 661.3, y: 613.3, w: 439.4, h: 372.4, yDomain: [0.5, 4.5], yTicks: yTicksLS, series: lsHighSeries,
  curve: d3.curveMonotoneX, lw: 1.2, legend: {w: 160.7, h: 57.6, labels: legendLS, colors: legendColorsLS}});
</script>
</body></html>
